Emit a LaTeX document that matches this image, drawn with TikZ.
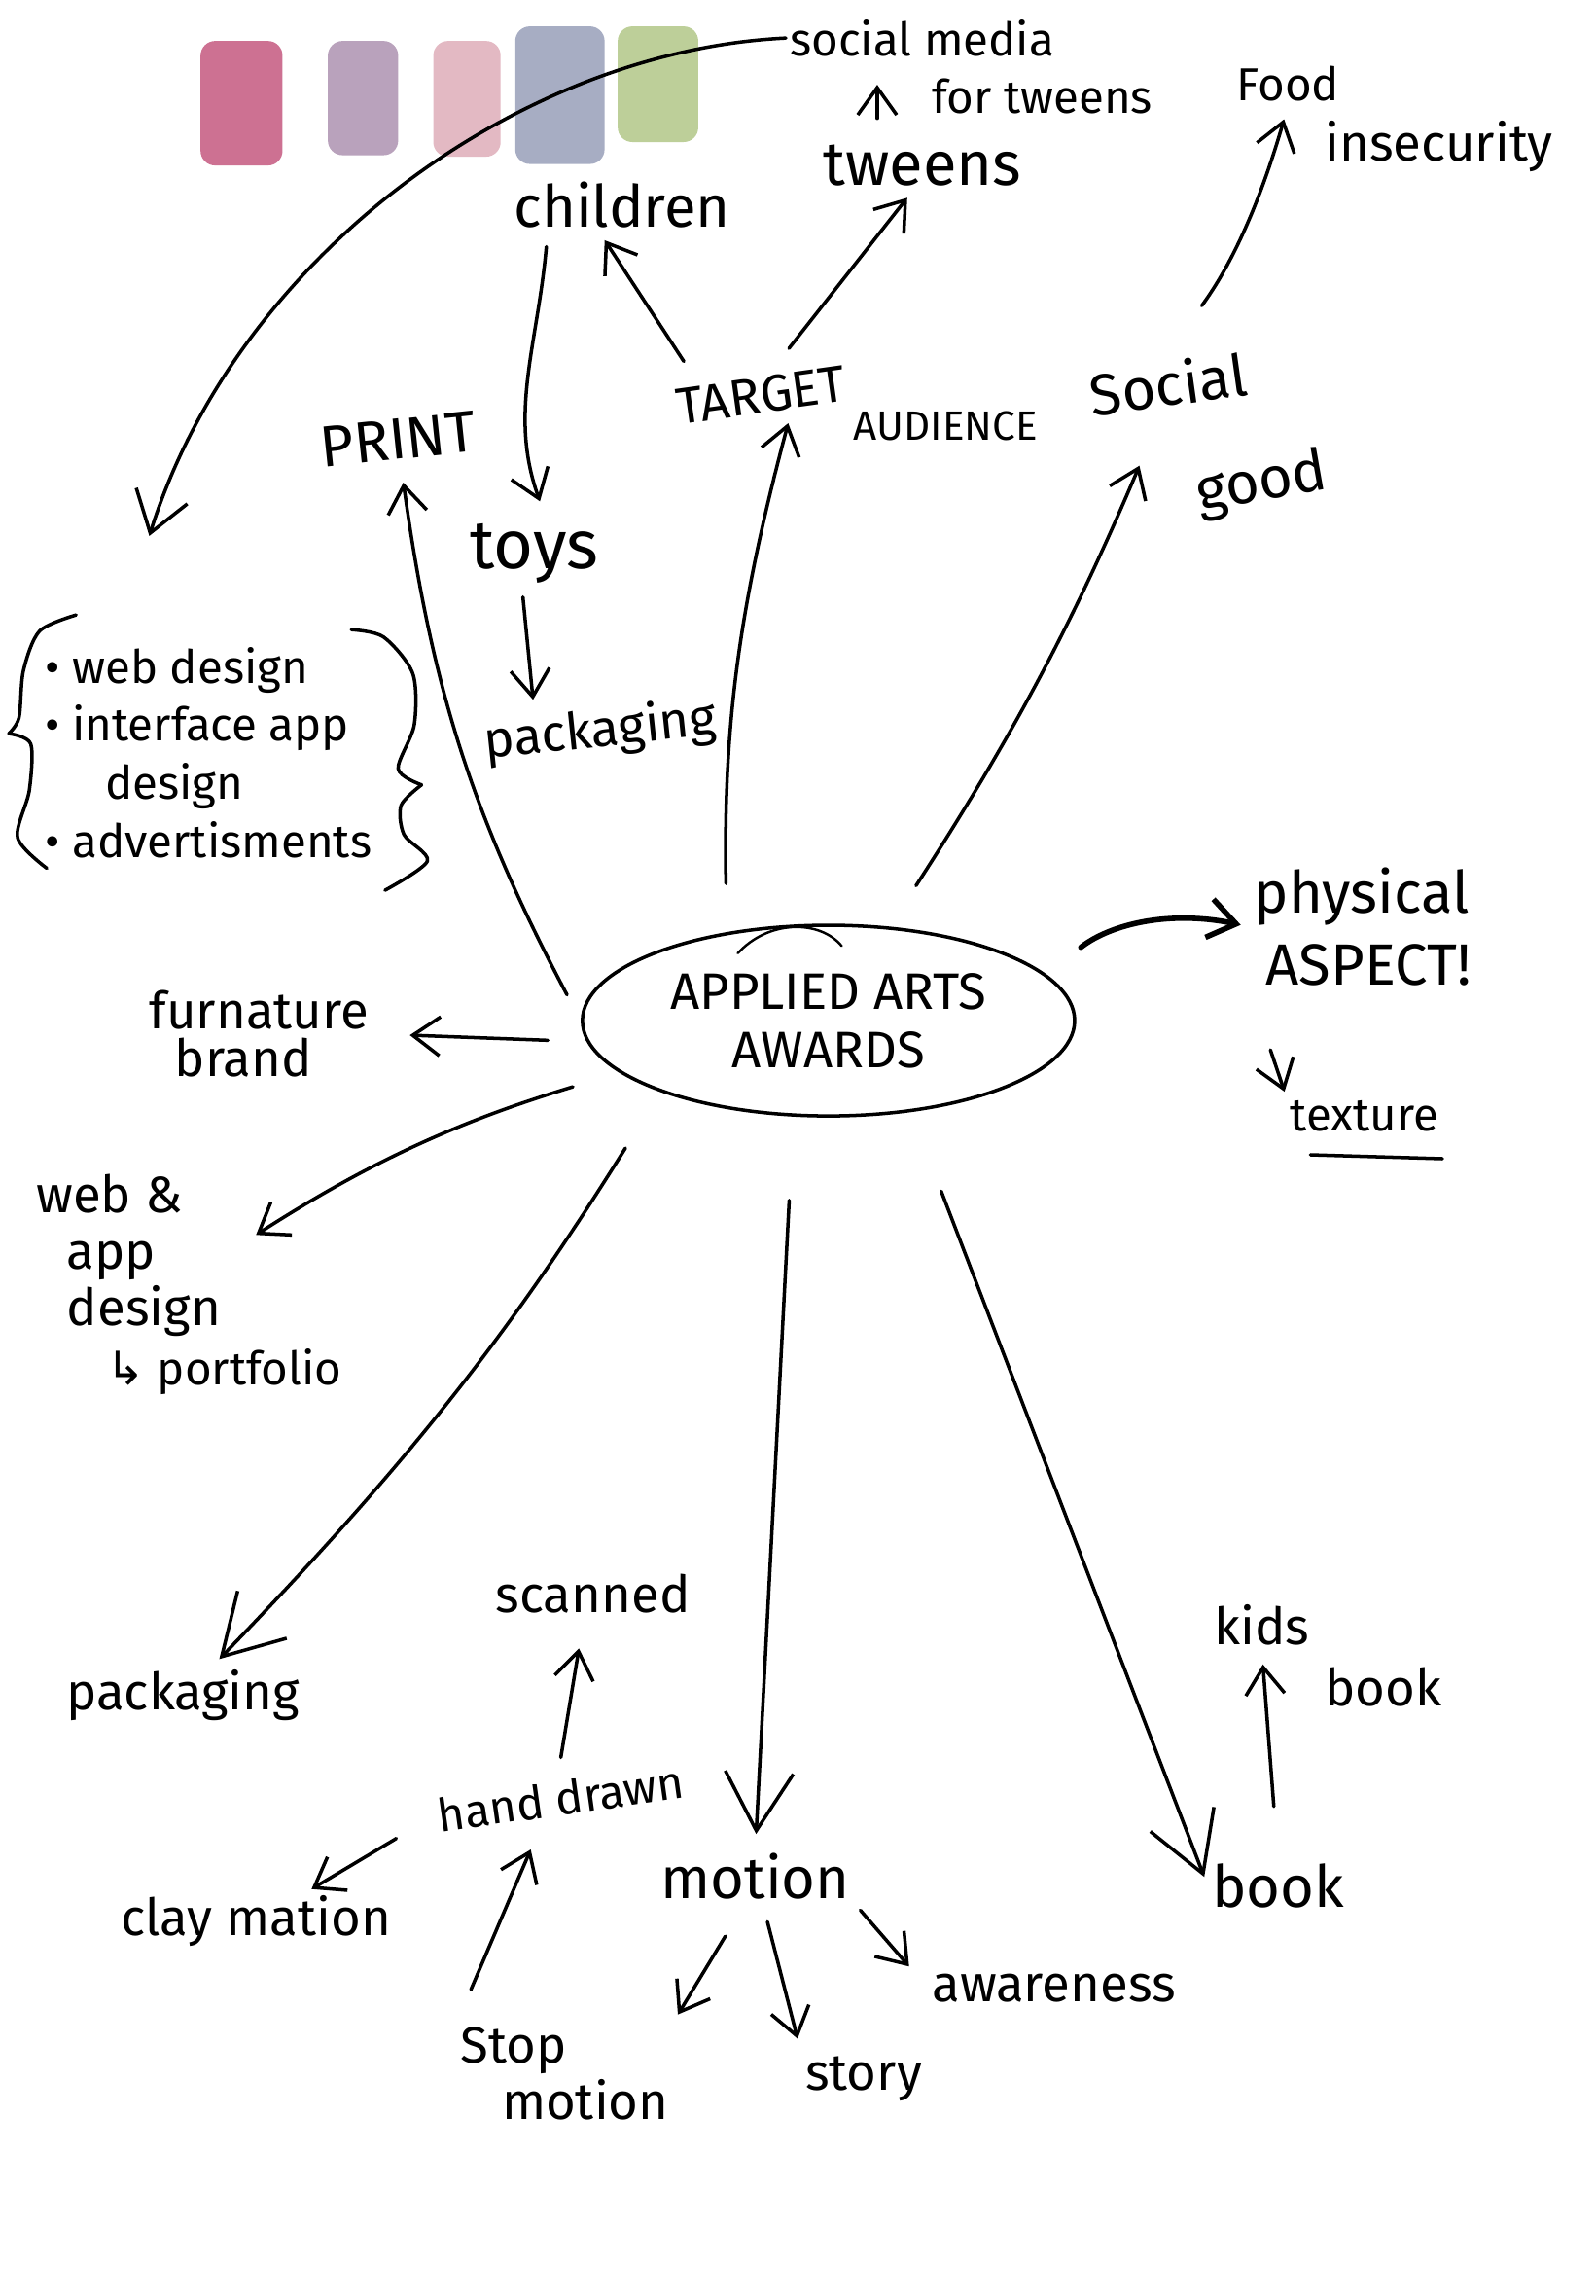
\documentclass[tikz,border=0pt]{standalone}
\usepackage{fontspec}
\setmainfont{Fira Sans}
\newfontfamily\dejavu{DejaVu Sans}
\usetikzlibrary{arrows.meta, shapes.geometric}
\definecolor{swrose}{HTML}{CD7192}
\definecolor{swlilac}{HTML}{B9A2BC}
\definecolor{swblush}{HTML}{E3B9C3}
\definecolor{swslate}{HTML}{A7ADC3}
\definecolor{swsage}{HTML}{BDCF99}

\begin{document}
\begin{tikzpicture}[x=0.15046mm, y=-0.15046mm,
    pen/.style={line width=1pt, line cap=round, line join=round},
    arr/.style={pen, -{Straight Barb[length=2.8mm, width=4mm]}},
    bigarr/.style={pen, -{Straight Barb[length=6mm, width=7mm]}},
    small/.style={inner sep=1pt, font=\fontsize{13.5}{16}\selectfont},
    txt/.style={inner sep=1pt, font=\fontsize{15}{17}\selectfont},
    big/.style={inner sep=1pt, font=\fontsize{17}{20}\selectfont},
    swatch/.style={rounded corners=1.5mm}]
  \useasboundingbox (0,0) rectangle (1090,1568);

  % Colour swatches
  \fill[swrose, swatch] (137,28) rectangle (193,113);
  \fill[swlilac, swatch] (224,28) rectangle (272,106);
  \fill[swblush, swatch] (296,28) rectangle (342,107);
  \fill[swslate, swatch] (352,18) rectangle (413,112);
  \fill[swsage, swatch] (422,18) rectangle (477,97);

  % Centre
  \node[txt, ellipse, draw, pen, minimum width=50.6mm, minimum height=19.6mm, inner sep=0pt, align=center] (aaa) at (566,697) {APPLIED ARTS\\AWARDS};
  \draw[pen, line width=0.7pt] (504,651) .. controls (525,628) and (560,628) .. (575,646);

  % Top labels
  \node[small] (smedia) at (630,26) {social media};
  \node[small] (fortw) at (712,66) {for tweens};
  \node[small] (food) at (880,57) {Food};
  \node[txt] (insec) at (983,100) {insecurity};
  \node[big] (children) at (425,140) {children};
  \node[big, font=\fontsize{18}{20}\selectfont] (tweens) at (630,113) {tweens};
  \node[txt, rotate=8] (target) at (520,270) {TARGET};
  \node[txt, font=\fontsize{12}{14}\selectfont] (audience) at (646,291) {AUDIENCE};
  \node[big, rotate=8] (social) at (798,262) {Social};
  \node[big, rotate=10] (good) at (862,331) {good};
  \node[big, rotate=6] (print) at (272,300) {PRINT};
  \node[big, font=\fontsize{20}{22}\selectfont] (toys) at (365,378) {toys};
  \node[txt, rotate=6] (pkgtop) at (410,500) {packaging};
  \node[small, align=left, anchor=west, font=\fontsize{13.5}{17}\selectfont] (list) at (28,514) {• web design\\• interface app\\\hspace{1.3em}design\\• advertisments};

  % Braces round the list
  \draw[pen] plot[smooth] coordinates {(52,420) (27,431) (16,458) (13,490) (6,501)};
  \draw[pen] plot[smooth] coordinates {(6,501) (21,508) (20,540) (12,572) (32,593)};
  \draw[pen] plot[smooth] coordinates {(240,430) (262,435) (282,460) (283,495) (272,525) (288,536)};
  \draw[pen] plot[smooth] coordinates {(288,536) (274,550) (276,570) (292,588) (263,608)};

  % Side labels
  \node[big, align=left, font=\fontsize{17}{21}\selectfont] (phys) at (931,633) {physical\\\hspace{0.2em}ASPECT!};
  \node[small] (texture) at (932,762) {texture};
  \node[txt, align=left, font=\fontsize{15}{14}\selectfont] (furn) at (177,706) {furnature\\\hspace{0.5em}brand};
  \node[txt, align=left, anchor=west, font=\fontsize{15}{16.5}\selectfont] (webapp) at (22,857) {web \&\\\hspace{0.6em}app\\\hspace{0.6em}design};
  \node[small, anchor=west] (portf) at (70,937) {{\dejavu ↳} portfolio};

  % Bottom labels
  \node[txt] (pkglow) at (125,1158) {packaging};
  \node[txt] (scan) at (405,1088) {scanned};
  \node[small, rotate=8] (hand) at (383,1228) {hand drawn};
  \node[txt] (clay) at (175,1312) {clay mation};
  \node[txt, align=left, anchor=west, font=\fontsize{15}{16.5}\selectfont] (stopm) at (312,1416) {Stop\\\hspace{0.8em}motion};
  \node[big] (motion) at (516,1281) {motion};
  \node[txt] (story) at (590,1420) {story};
  \node[txt] (aware) at (720,1358) {awareness};
  \node[big] (book) at (873,1288) {book};
  \node[txt] (kids) at (862,1110) {kids};
  \node[txt] (kbook) at (945,1152) {book};

  % Branches from the centre
  \draw[arr, shorten <=3mm, shorten >=2mm] (aaa.west) to[bend left=10] (print.south);
  \draw[arr, shorten <=5mm, shorten >=1mm] (aaa.139) to[bend left=8] (target.-40);
  \draw[arr, shorten <=5mm, shorten >=6mm] (aaa.57) to[bend right=5] (social.-110);
  \draw[arr, line width=1.6pt, shorten <=4.5mm, shorten >=1mm] (aaa.12) to[bend left=25] (phys.west);
  \draw[arr, shorten <=4mm, shorten >=3.8mm] (aaa.185) -- (furn.east);
  \draw[arr, shorten <=5mm, shorten >=3.8mm] (aaa.-166) to[bend right=8] (webapp.east);
  \draw[bigarr, shorten <=6.8mm, shorten >=1mm] (aaa.-157) to[bend left=6] (pkglow.45);
  \draw[bigarr, shorten <=8.6mm, shorten >=1.5mm] (aaa.-110) -- (motion.north);
  \draw[bigarr, shorten <=8.7mm, shorten >=1mm] (aaa.-48) -- (book.west);

  % Target audience
  \draw[arr, shorten <=2.5mm, shorten >=1mm] (target.160) -- (children.-130);
  \draw[arr, shorten <=3mm, shorten >=1mm] (target.60) -- (tweens.-110);
  \draw[arr, shorten <=1.5mm, shorten >=2mm] (children.-160) to[out=-95, in=110] (toys.70);
  \draw[arr, shorten <=1mm, shorten >=1mm] (toys.-110) -- (pkgtop.155);
  \draw[arr, shorten >=1mm] ([xshift=-5.2mm]fortw.south west) -- ([xshift=-5.2mm]fortw.north west);
  \draw[arr, shorten <=6.5mm, shorten >=1.5mm] (social.north) to[bend right=10] (food.south);

  % Social media
  \coordinate (loose) at (102,366);
  \draw[arr, -{Straight Barb[length=4mm, width=5.5mm]}] (smedia.west) .. controls (350,35) and (160,180) .. (loose);

  % Physical aspect
  \draw[arr, shorten <=6.5mm, shorten >=0.5mm] (phys.south west) -- (texture.north west);
  \draw[pen] ([xshift=2.5mm, yshift=-2mm]texture.south west) -- ([yshift=-2.4mm]texture.south east);

  % Motion
  \draw[arr, shorten <=2mm, shorten >=3.3mm] (hand.north) -- (scan.-110);
  \draw[arr, shorten <=4.5mm, shorten >=0.5mm] (hand.west) -- (clay.30);
  \draw[arr, shorten <=3.7mm, shorten >=3mm] (stopm.north west) -- (hand.-135);
  \draw[arr, shorten <=4mm, shorten >=1mm] (motion.-110) -- (stopm.north east);
  \draw[arr, shorten <=2mm, shorten >=1.5mm] (motion.-75) -- (story.north west);
  \draw[arr, shorten <=1mm, shorten >=3mm] (motion.south east) -- (aware.west);
  \draw[arr, shorten <=5.5mm, shorten >=1.5mm] (book.north) -- (kids.south);
\end{tikzpicture}
\end{document}
